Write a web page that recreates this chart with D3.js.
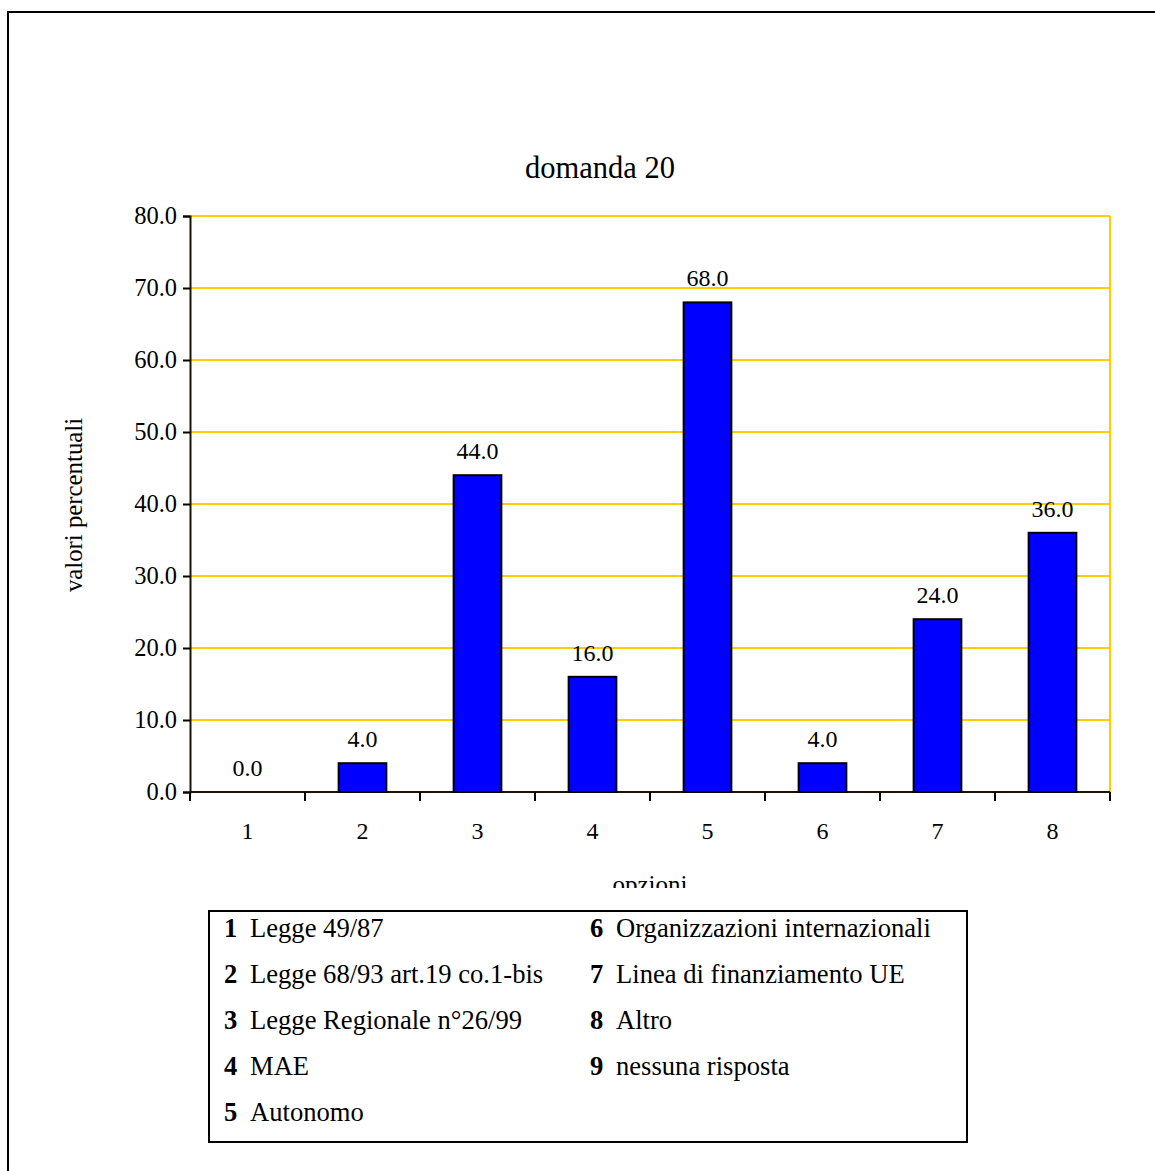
<!DOCTYPE html>
<html>
<head>
<meta charset="utf-8">
<script src="https://cdn.jsdelivr.net/npm/d3@7"></script>
<style>
  html, body { margin: 0; padding: 0; background: #fff; }
  svg { display: block; }
  text { font-family: "Liberation Serif", "Times New Roman", serif; fill: #000; }
</style>
</head>
<body>
<svg id="chart" width="1155" height="1171"></svg>
<script>
// Survey question 20: share of answers for each option (percent)
const categories = ["1", "2", "3", "4", "5", "6", "7", "8"];
const values = [0.0, 4.0, 44.0, 16.0, 68.0, 4.0, 24.0, 36.0];
const yTicks = [0, 10, 20, 30, 40, 50, 60, 70, 80];
const legendLeft = [
  ["1", "Legge 49/87"],
  ["2", "Legge 68/93 art.19 co.1-bis"],
  ["3", "Legge Regionale n°26/99"],
  ["4", "MAE"],
  ["5", "Autonomo"]
];
const legendRight = [
  ["6", "Organizzazioni internazionali"],
  ["7", "Linea di finanziamento UE"],
  ["8", "Altro"],
  ["9", "nessuna risposta"]
];

const svg = d3.select("#chart");
const gold = "#FFCC00";

// page frame
svg.append("rect")
  .attr("x", 8).attr("y", 12).attr("width", 1200).attr("height", 1200)
  .attr("fill", "none").attr("stroke", "#000").attr("stroke-width", 2);

const plot = { left: 190, right: 1110, top: 216, bottom: 792 };

const x = d3.scaleBand().domain(categories).range([plot.left, plot.right]).paddingInner(0.585).paddingOuter(0.2925);
const xEdges = d3.scaleBand().domain(categories).range([plot.left, plot.right]);
const y = d3.scaleLinear().domain([0, 80]).range([plot.bottom, plot.top]);

// title
svg.append("text")
  .attr("x", 600).attr("y", 178)
  .attr("text-anchor", "middle")
  .style("font-size", "30.5px")
  .text("domanda 20");

// gridlines
svg.append("g")
  .selectAll("line")
  .data(yTicks.filter(d => d > 0))
  .join("line")
  .attr("x1", plot.left).attr("x2", plot.right)
  .attr("y1", d => y(d)).attr("y2", d => y(d))
  .attr("stroke", gold).attr("stroke-width", 2);

// right frame edge
svg.append("line")
  .attr("x1", plot.right).attr("x2", plot.right)
  .attr("y1", plot.top).attr("y2", plot.bottom)
  .attr("stroke", gold).attr("stroke-width", 2);

// y axis
const yAxis = svg.append("g")
  .attr("transform", `translate(${plot.left},0)`)
  .call(d3.axisLeft(y).tickValues(yTicks).tickFormat(d3.format(".1f")).tickSize(7).tickPadding(6));
yAxis.select(".domain").attr("stroke", "#1a1408").attr("stroke-width", 2);
yAxis.selectAll(".tick line").attr("stroke", "#000").attr("stroke-width", 2);
yAxis.selectAll(".tick text")
  .style("font-family", "'Liberation Serif', serif")
  .style("font-size", "24.5px").attr("fill", "#000");

// x axis: ticks on band boundaries
const xAxisG = svg.append("g");
xAxisG.append("line")
  .attr("x1", plot.left).attr("x2", plot.right)
  .attr("y1", plot.bottom).attr("y2", plot.bottom)
  .attr("stroke", "#1a1408").attr("stroke-width", 2);
const edges = categories.map(c => xEdges(c)).concat([plot.right]);
xAxisG.selectAll("line.tk")
  .data(edges)
  .join("line")
  .attr("class", "tk")
  .attr("x1", d => d).attr("x2", d => d)
  .attr("y1", plot.bottom).attr("y2", plot.bottom + 9)
  .attr("stroke", "#000").attr("stroke-width", 2);
xAxisG.selectAll("text")
  .data(categories)
  .join("text")
  .attr("x", d => xEdges(d) + xEdges.bandwidth() / 2)
  .attr("y", plot.bottom + 47)
  .attr("text-anchor", "middle")
  .style("font-size", "24px")
  .text(d => d);

// bars
svg.append("g")
  .selectAll("rect")
  .data(values)
  .join("rect")
  .attr("x", (d, i) => x(categories[i]))
  .attr("width", x.bandwidth())
  .attr("y", d => y(d))
  .attr("height", d => plot.bottom - y(d))
  .attr("fill", "#0000FF")
  .attr("stroke", "#000").attr("stroke-width", 2)
  .attr("display", d => d > 0 ? null : "none");

// value labels
svg.append("g")
  .selectAll("text")
  .data(values)
  .join("text")
  .attr("x", (d, i) => x(categories[i]) + x.bandwidth() / 2)
  .attr("y", d => y(d) - 16)
  .attr("text-anchor", "middle")
  .style("font-size", "24px")
  .text(d => d.toFixed(1));

// y axis title
svg.append("text")
  .attr("transform", `translate(82,505) rotate(-90)`)
  .attr("text-anchor", "middle")
  .style("font-size", "24.8px")
  .text("valori percentuali");

// x axis title, cut off by the legend area
svg.append("clipPath").attr("id", "xtitle-clip")
  .append("rect").attr("x", 0).attr("y", 0).attr("width", 1155).attr("height", 888);
svg.append("text")
  .attr("clip-path", "url(#xtitle-clip)")
  .attr("x", 650).attr("y", 893)
  .attr("text-anchor", "middle")
  .style("font-size", "25px")
  .text("opzioni");

// legend box
const legend = svg.append("g");
legend.append("rect")
  .attr("x", 209).attr("y", 911).attr("width", 758).attr("height", 231)
  .attr("fill", "#fff").attr("stroke", "#000").attr("stroke-width", 2);

function legendColumn(rows, numX, textX) {
  const g = legend.append("g");
  const rowsSel = g.selectAll("g").data(rows).join("g")
    .attr("transform", (d, i) => `translate(0,${937 + i * 46})`);
  rowsSel.append("text")
    .attr("x", numX)
    .style("font-size", "26.6px").style("font-weight", "bold")
    .text(d => d[0]);
  rowsSel.append("text")
    .attr("x", textX)
    .style("font-size", "26.6px")
    .text(d => d[1]);
}
legendColumn(legendLeft, 224, 250);
legendColumn(legendRight, 590, 616);
</script>
</body>
</html>
